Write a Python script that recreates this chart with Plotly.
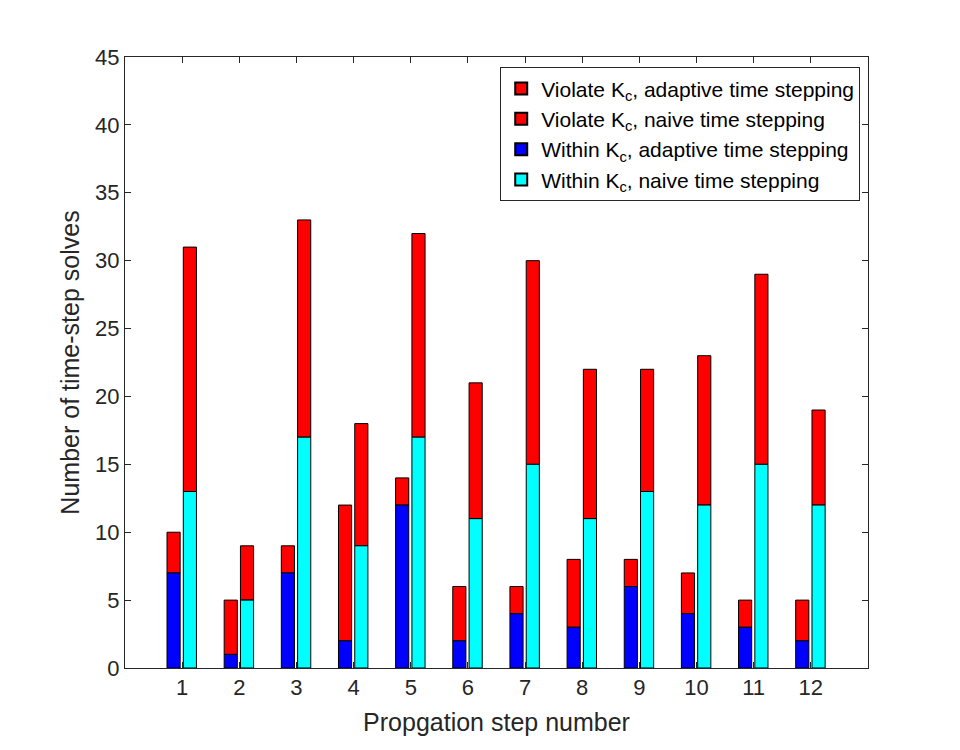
import plotly.graph_objects as go

# Propagation steps
steps = [1, 2, 3, 4, 5, 6, 7, 8, 9, 10, 11, 12]

# Adaptive time stepping: solves within K_c and total solves
adaptive_within = [7, 1, 7, 2, 12, 2, 4, 3, 6, 4, 3, 2]
adaptive_total = [10, 5, 9, 12, 14, 6, 6, 8, 8, 7, 5, 5]

# Naive time stepping: solves within K_c and total solves
naive_within = [13, 5, 17, 9, 17, 11, 15, 11, 13, 12, 15, 12]
naive_total = [31, 9, 33, 18, 32, 21, 30, 22, 22, 23, 29, 19]

adaptive_violate = [t - w for t, w in zip(adaptive_total, adaptive_within)]
naive_violate = [t - w for t, w in zip(naive_total, naive_within)]

line = dict(color='black', width=1)
w = 0.23

data = [
    go.Bar(x=steps, y=adaptive_violate, base=adaptive_within, width=w, offset=-0.265,
           marker=dict(color='#ff0000', line=line),
           name='Violate K<sub>c</sub>, adaptive time stepping'),
    go.Bar(x=steps, y=naive_violate, base=naive_within, width=w, offset=0.02,
           marker=dict(color='#ff0000', line=line),
           name='Violate K<sub>c</sub>, naive time stepping'),
    go.Bar(x=steps, y=adaptive_within, width=w, offset=-0.265,
           marker=dict(color='#0000ff', line=line),
           name='Within K<sub>c</sub>, adaptive time stepping'),
    go.Bar(x=steps, y=naive_within, width=w, offset=0.02,
           marker=dict(color='#00ffff', line=line),
           name='Within K<sub>c</sub>, naive time stepping'),
]

axis_style = dict(showline=True, linecolor='#262626', linewidth=1, mirror='ticks',
                  ticks='inside', ticklen=6, tickcolor='#262626', showgrid=False,
                  zeroline=False, tickfont=dict(size=22, color='#262626'))

# the page body adds an 8px margin, so the margins are shifted to compensate
layout = go.Layout(
    width=960, height=750,
    font=dict(family='Liberation Sans, Arial, sans-serif', color='#262626'),
    paper_bgcolor='white', plot_bgcolor='white',
    margin=dict(l=117, r=100, t=49, b=90),
    barmode='overlay',
    xaxis=dict(range=[0, 13], tickmode='array', tickvals=steps,
               title=dict(text='Propgation step number', font=dict(size=25), standoff=14),
               **axis_style),
    yaxis=dict(range=[0, 45], dtick=5,
               title=dict(text='Number of time-step solves', font=dict(size=25), standoff=8),
               **axis_style),
    legend=dict(x=0.505, y=0.983, xanchor='left', yanchor='top', traceorder='normal',
                bgcolor='white', bordercolor='#262626', borderwidth=1,
                font=dict(size=21, color='black'), itemsizing='constant',
                tracegroupgap=0),
    showlegend=True,
)

fig = go.Figure(data=data, layout=layout)
fig.write_html("out.html")
